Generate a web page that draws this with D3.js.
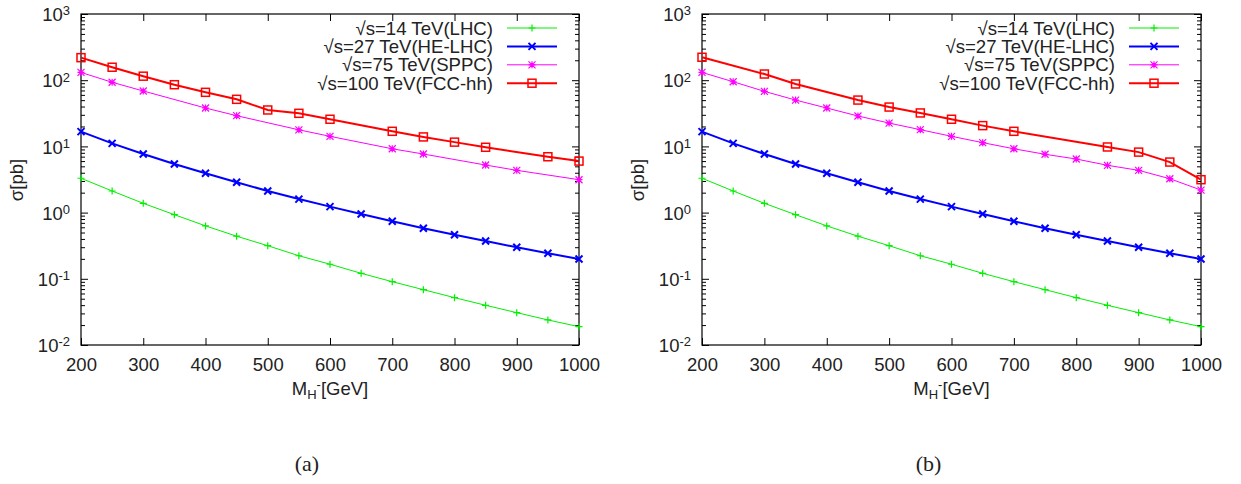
<!DOCTYPE html>
<html>
<head>
<meta charset="utf-8">
<title>Charged Higgs cross sections</title>
<script src="https://d3js.org/d3.v7.min.js"></script>
<style>
  body { margin: 0; background: #fff; }
  text { font-family: "Liberation Sans", Arial, sans-serif; fill: #222; }
</style>
</head>
<body>
<div id="chart"></div>
<script>
// masses (GeV) on the x axis
var masses = [200, 250, 300, 350, 400, 450, 500, 550, 600, 650, 700, 750, 800, 850, 900, 950, 1000];

// cross sections in pb, null where the original has no point
var lhc14 = [3.3, 2.12, 1.38, 0.93, 0.63, 0.44, 0.316, 0.223, 0.166, 0.121, 0.0904, 0.0685, 0.0519, 0.0398, 0.0308, 0.0239, 0.0189];
var heLhc27 = [16.7, 11.1, 7.67, 5.42, 3.93, 2.87, 2.12, 1.60, 1.23, 0.95, 0.74, 0.58, 0.463, 0.372, 0.299, 0.243, 0.199];
var sppc75A = [131, 93, 68.7, null, 38, 29.1, null, 17.8, 14.2, null, 9.2, 7.67, null, 5.23, 4.35, null, 3.14];
var fcc100A = [219, 157, 115, 85.5, 65.6, 51.4, 35.5, 31.6, 25.7, null, 16.9, 13.9, 11.6, 9.7, null, 6.98, 6.0];
var sppc75B = [131, 94.8, 67.9, 50.1, 38, 28.8, 22.5, 17.9, 14.2, 11.4, 9.2, 7.6, 6.45, 5.18, 4.35, 3.25, 2.19];
var fcc100B = [222, null, 124, 87.7, null, 50.1, 39.3, 32, 25.7, 20.6, 16.9, null, null, 9.8, 8.2, 5.8, 3.14];

var legendLabels = ["\u221as=14 TeV(LHC)", "\u221as=27 TeV(HE-LHC)", "\u221as=75 TeV(SPPC)", "\u221as=100 TeV(FCC-hh)"];
var xTicks = [200, 300, 400, 500, 600, 700, 800, 900, 1000];
var yExponents = [-2, -1, 0, 1, 2, 3];

var seriesStyle = [
  {color: "#00f000", width: 1, marker: "plus"},
  {color: "#0000ff", width: 2, marker: "cross"},
  {color: "#ff00ff", width: 1, marker: "star"},
  {color: "#ff0000", width: 2, marker: "square"}
];

var W = 1241, H = 484;
var svg = d3.select("#chart").append("svg")
    .attr("width", W).attr("height", H);

var panels = [
  {left: 81, right: 579, data: [lhc14, heLhc27, sppc75A, fcc100A], caption: "(a)"},
  {left: 702, right: 1201, data: [lhc14, heLhc27, sppc75B, fcc100B], caption: "(b)"}
];
var plotTop = 14, plotBottom = 345;

function drawMarker(g, type, cx, cy, color) {
  var s = 3.5;
  if (type == "square") {
    g.append("rect").attr("x", cx - 4).attr("y", cy - 4).attr("width", 8).attr("height", 8)
      .attr("fill", "none").attr("stroke", color).attr("stroke-width", 1.5);
    return;
  }
  var p = d3.path();
  if (type == "plus" || type == "star") {
    p.moveTo(cx - s, cy); p.lineTo(cx + s, cy);
    p.moveTo(cx, cy - s); p.lineTo(cx, cy + s);
  }
  if (type == "cross" || type == "star") {
    p.moveTo(cx - s, cy - s); p.lineTo(cx + s, cy + s);
    p.moveTo(cx - s, cy + s); p.lineTo(cx + s, cy - s);
  }
  g.append("path").attr("d", p.toString()).attr("stroke", color)
    .attr("stroke-width", type == "cross" ? 2 : 1.2).attr("fill", "none");
}

panels.forEach(function(pn) {
  var x = d3.scaleLinear().domain([200, 1000]).range([pn.left, pn.right]);
  var y = d3.scaleLog().domain([0.01, 1000]).range([plotBottom, plotTop]);

  var g = svg.append("g");

  // minor log ticks
  var minor = [];
  for (var e = -2; e < 3; e++) {
    for (var k = 2; k <= 9; k++) minor.push(k * Math.pow(10, e));
  }
  var majors = yExponents.map(function(e) { return Math.pow(10, e); });

  // left axis
  g.append("g").attr("transform", "translate(" + pn.left + ",0)")
    .call(d3.axisLeft(y).tickValues(minor).tickSize(-4).tickFormat(""));
  var yl = g.append("g").attr("transform", "translate(" + pn.left + ",0)")
    .call(d3.axisLeft(y).tickValues(majors).tickSize(-7).tickPadding(11).tickFormat(""));
  // right axis
  g.append("g").attr("transform", "translate(" + pn.right + ",0)")
    .call(d3.axisRight(y).tickValues(minor).tickSize(-4).tickFormat(""));
  g.append("g").attr("transform", "translate(" + pn.right + ",0)")
    .call(d3.axisRight(y).tickValues(majors).tickSize(-7).tickFormat(""));
  // bottom and top
  var xb = g.append("g").attr("transform", "translate(0," + plotBottom + ")")
    .call(d3.axisBottom(x).tickValues(xTicks).tickSize(-7).tickPadding(13).tickFormat(d3.format("d")));
  g.append("g").attr("transform", "translate(0," + plotTop + ")")
    .call(d3.axisTop(x).tickValues(xTicks).tickSize(-7).tickFormat(""));

  g.selectAll(".domain").remove();
  g.selectAll(".tick line").attr("stroke", "#000");
  xb.selectAll("text").style("font-size", "18.5px").attr("fill", "#222")
    .style("font-family", "Liberation Sans, Arial, sans-serif");

  // y labels 10^n
  yl.selectAll(".tick").each(function(d) {
    var t = d3.select(this).select("text")
      .attr("dy", "0.36em").style("font-size", "18.5px").attr("fill", "#222")
      .style("font-family", "Liberation Sans, Arial, sans-serif");
    t.text("");
    t.append("tspan").text("10");
    t.append("tspan").attr("dy", "-0.45em").style("font-size", "13px")
      .text(String(Math.round(Math.log10(d))));
  });

  // frame
  g.append("rect").attr("x", pn.left).attr("y", plotTop)
    .attr("width", pn.right - pn.left).attr("height", plotBottom - plotTop)
    .attr("fill", "none").attr("stroke", "#000").attr("stroke-width", 1.2);

  // series
  pn.data.forEach(function(vals, i) {
    var st = seriesStyle[i];
    var pts = masses.map(function(m, j) { return {m: m, v: vals[j]}; })
      .filter(function(d) { return d.v != null; });
    var line = d3.line().x(function(d) { return x(d.m); }).y(function(d) { return y(d.v); });
    g.append("path").datum(pts).attr("d", line).attr("fill", "none")
      .attr("stroke", st.color).attr("stroke-width", st.width);
    pts.forEach(function(d) { drawMarker(g, st.marker, x(d.m), y(d.v), st.color); });
  });

  // legend
  legendLabels.forEach(function(lab, i) {
    var st = seriesStyle[i];
    var ly = 28 + i * 18.4;
    g.append("text").attr("x", pn.right - 86).attr("y", ly).attr("dy", "0.36em")
      .attr("text-anchor", "end").style("font-size", "18.6px").text(lab);
    g.append("line").attr("x1", pn.right - 72).attr("x2", pn.right - 22)
      .attr("y1", ly).attr("y2", ly).attr("stroke", st.color).attr("stroke-width", st.width);
    drawMarker(g, st.marker, pn.right - 47, ly, st.color);
  });

  // axis titles
  g.append("text").attr("transform", "translate(" + (pn.left - 58) + "," + 180 + ") rotate(-90)")
    .attr("text-anchor", "middle").style("font-size", "18.5px").text("\u03c3[pb]");
  var xt = g.append("text").attr("x", (pn.left + pn.right) / 2).attr("y", 395)
    .attr("text-anchor", "middle").style("font-size", "18.5px");
  xt.append("tspan").text("M");
  xt.append("tspan").attr("dy", "4").style("font-size", "13px").text("H");
  xt.append("tspan").attr("dy", "-10").style("font-size", "13px").text("-");
  xt.append("tspan").attr("dy", "6").text("[GeV]");

  // caption
  g.append("text").attr("x", (pn.left + pn.right) / 2 - 23).attr("y", 471)
    .attr("text-anchor", "middle").style("font-family", "Liberation Serif, serif")
    .style("font-size", "22px").text(pn.caption);
});
</script>
</body>
</html>
